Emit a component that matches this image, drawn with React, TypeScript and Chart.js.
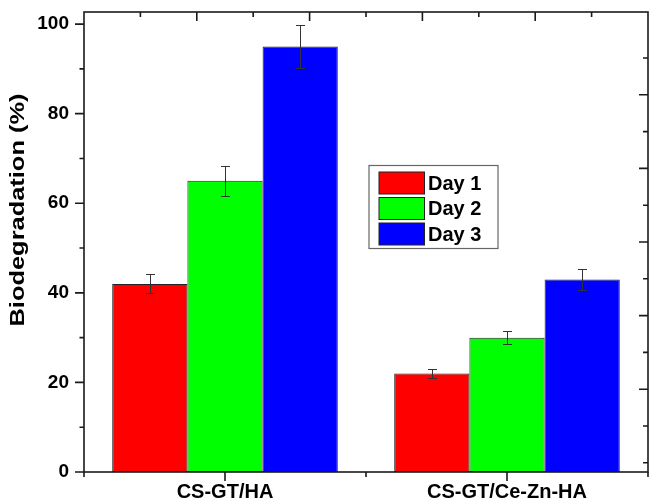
import React, { useEffect, useRef } from "react";
import { Chart, registerables } from "chart.js";

Chart.register(...registerables);

const categories = ["CS-GT/HA", "CS-GT/Ce-Zn-HA"];
const seriesLabels = ["Day 1", "Day 2", "Day 3"];
const day1 = [42, 22];
const day2 = [65, 30];
const day3 = [95, 43];
const day1Err = [2.1, 1.1];
const day2Err = [3.3, 1.5];
const day3Err = [4.8, 2.3];
const seriesColors = ["#FF0000", "#00FF00", "#0000FF"];
const yTicks = [0, 10, 20, 30, 40, 50, 60, 70, 80, 90, 100];
const yLabelTicks = [0, 20, 40, 60, 80, 100];
const yTitle = "Biodegradation (%)";
const yMin = 0;
const yMax = 102.7;

const seriesValues = [day1, day2, day3];
const seriesErrors = [day1Err, day2Err, day3Err];

const FONT = '"Liberation Sans", Arial, sans-serif';

const errorBarPlugin = {
  id: "errorBars",
  afterDatasetsDraw(chart: any) {
    const ctx = chart.ctx;
    const y = chart.scales.y;
    ctx.save();
    ctx.strokeStyle = "#333";
    ctx.lineWidth = 1;
    chart.data.datasets.forEach((ds: any, i: number) => {
      const meta = chart.getDatasetMeta(i);
      meta.data.forEach((bar: any, j: number) => {
        const v = seriesValues[i][j];
        const e = seriesErrors[i][j];
        const x = Math.round(bar.x) + 0.5;
        const yt = Math.round(y.getPixelForValue(v + e)) + 0.5;
        const yb = Math.round(y.getPixelForValue(v - e)) + 0.5;
        const cap = 4.5;
        ctx.beginPath();
        ctx.moveTo(x, yt);
        ctx.lineTo(x, yb);
        ctx.moveTo(x - cap, yt);
        ctx.lineTo(x + cap, yt);
        ctx.moveTo(x - cap, yb);
        ctx.lineTo(x + cap, yb);
        ctx.stroke();
      });
    });
    ctx.restore();
  },
};

const framePlugin = {
  id: "frame",
  afterDraw(chart: any) {
    const ctx = chart.ctx;
    const a = chart.chartArea;
    const y = chart.scales.y;
    const x = chart.scales.x;
    ctx.save();
    ctx.strokeStyle = "#1a1a1a";
    ctx.lineWidth = 1.6;
    ctx.strokeRect(a.left, a.top, a.right - a.left, a.bottom - a.top);
    ctx.beginPath();
    yTicks.forEach((v) => {
      const py = y.getPixelForValue(v);
      const len = yLabelTicks.includes(v) ? 9 : 4.5;
      ctx.moveTo(a.left - len, py);
      ctx.lineTo(a.left, py);
    });
    categories.forEach((_, i) => {
      const px = x.getPixelForValue(i);
      ctx.moveTo(px, a.bottom);
      ctx.lineTo(px, a.bottom + 9);
    });
    for (let i = -0.5; i <= categories.length - 0.5; i += 1) {
      const px = x.getPixelForValue(i);
      ctx.moveTo(px, a.bottom);
      ctx.lineTo(px, a.bottom + 5);
    }
    const w = a.right - a.left;
    for (let i = 1; i < 10; i++) {
      const px = a.left + (i * w) / 10;
      const len = i % 2 === 0 ? 9 : 5;
      ctx.moveTo(px, a.top);
      ctx.lineTo(px, a.top + len);
    }
    const h = a.bottom - a.top;
    const sp = h / 12.5;
    for (let i = 0; i < 12; i++) {
      const py = a.top + sp * (1.25 + i);
      const k = 11 - i;
      const len = k % 2 === 0 && k !== 0 ? 9 : 5;
      ctx.moveTo(a.right, py);
      ctx.lineTo(a.right - len, py);
    }
    ctx.stroke();
    ctx.restore();
  },
};

const legendPlugin = {
  id: "innerLegend",
  afterDraw(chart: any) {
    const ctx = chart.ctx;
    const a = chart.chartArea;
    const lx = a.left + 285;
    const ly = a.top + 153.5;
    const lw = 129;
    const lh = 83;
    ctx.save();
    ctx.fillStyle = "#fff";
    ctx.fillRect(lx, ly, lw, lh);
    ctx.strokeStyle = "#666";
    ctx.lineWidth = 1.2;
    ctx.strokeRect(lx, ly, lw, lh);
    ctx.font = `bold 20px ${FONT}`;
    ctx.textBaseline = "middle";
    ctx.textAlign = "left";
    seriesLabels.forEach((lab, i) => {
      const sy = ly + 6.5 + i * 25.5;
      ctx.fillStyle = seriesColors[i];
      ctx.fillRect(lx + 10, sy, 45.5, 22);
      ctx.strokeStyle = "#222";
      ctx.lineWidth = 1;
      ctx.strokeRect(lx + 10, sy, 45.5, 22);
      ctx.fillStyle = "#000";
      ctx.fillText(lab, lx + 59, sy + 12);
    });
    ctx.restore();
  },
};

const yTitlePlugin = {
  id: "yTitleDraw",
  afterDraw(chart: any) {
    const ctx = chart.ctx;
    ctx.save();
    ctx.font = `bold 20px ${FONT}`;
    ctx.fillStyle = "#000";
    ctx.textAlign = "center";
    ctx.textBaseline = "middle";
    const w = ctx.measureText(yTitle).width;
    const target = 233;
    ctx.translate(18.5, 210);
    ctx.rotate(-Math.PI / 2);
    ctx.scale(target / w, 1);
    ctx.fillText(yTitle, 0, 0);
    ctx.restore();
  },
};

export default function App() {
  const ref = useRef<HTMLCanvasElement | null>(null);
  useEffect(() => {
    document.body.style.margin = "0";
    document.body.style.overflow = "hidden";
    const canvas = ref.current;
    if (!canvas) return;
    const chart = new Chart(canvas, {
      type: "bar",
      data: {
        labels: categories,
        datasets: seriesLabels.map((lab, i) => ({
          label: lab,
          data: seriesValues[i],
          backgroundColor: seriesColors[i],
          borderColor: "#222",
          borderWidth: 1,
          borderSkipped: false,
          categoryPercentage: 0.8,
          barPercentage: 1,
        })),
      },
      options: {
        responsive: false,
        animation: false,
        devicePixelRatio: 1,
        layout: { padding: { top: 12, right: 3, left: 0, bottom: 0 } },
        plugins: {
          legend: { display: false },
          tooltip: { enabled: false },
          title: { display: false },
        },
        scales: {
          x: {
            type: "category",
            offset: true,
            grid: { display: false, drawTicks: false, tickLength: 0, offset: true },
            border: { display: false },
            ticks: {
              color: "#000",
              font: { family: FONT, size: 20, weight: "bold" },
              padding: 8,
              maxRotation: 0,
              autoSkip: false,
            },
            afterFit(scale: any) {
              scale.height = 30;
              scale.paddingLeft = 0;
              scale.paddingRight = 0;
            },
          },
          y: {
            type: "linear",
            min: yMin,
            max: yMax,
            grid: { display: false, drawTicks: false, tickLength: 0 },
            border: { display: false },
            afterBuildTicks(scale: any) {
              scale.ticks = yTicks.map((v) => ({ value: v }));
            },
            ticks: {
              color: "#000",
              font: { family: FONT, size: 19, weight: "bold" },
              padding: 15,
              autoSkip: false,
              callback: (v: any) => (yLabelTicks.includes(Number(v)) ? String(v) : ""),
            },
            afterFit(scale: any) {
              scale.width = 84;
              scale.paddingTop = 0;
              scale.paddingBottom = 0;
            },
          },
        },
      },
      plugins: [errorBarPlugin, framePlugin, legendPlugin, yTitlePlugin],
    });
    return () => chart.destroy();
  }, []);
  return <canvas ref={ref} width={651} height={502} style={{ display: "block" }} />;
}
